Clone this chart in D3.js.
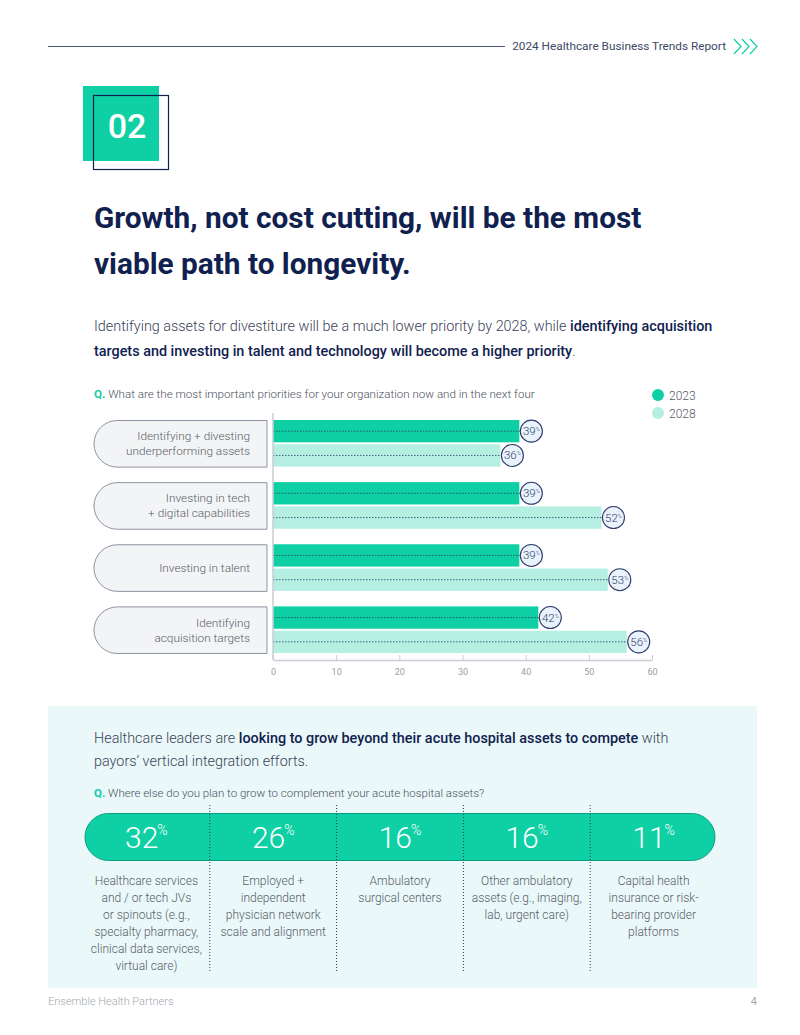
<!DOCTYPE html>
<html>
<head>
<meta charset="utf-8">
<script src="https://cdn.jsdelivr.net/npm/d3@7"></script>
<style>
  body { margin: 0; background: #fff; }
  svg { display: block; font-family: Roboto, "Noto Sans", sans-serif; }
</style>
</head>
<body>
<div id="page"></div>
<script>
// priorities chart data
const categories = [
  ["Identifying + divesting", "underperforming assets"],
  ["Investing in tech", "+ digital capabilities"],
  ["Investing in talent"],
  ["Identifying", "acquisition targets"]
];
const seriesNames = ["2023", "2028"];
const values2023 = [39, 39, 39, 42];
const values2028 = [36, 52, 53, 56];
const xTicks = [0, 10, 20, 30, 40, 50, 60];

// growth areas data
const growthValues = [32, 26, 16, 16, 11];
const growthLabels = [
  ["Healthcare services", "and / or tech JVs", "or spinouts (e.g.,", "specialty pharmacy,", "clinical data services,", "virtual care)"],
  ["Employed +", "independent", "physician network", "scale and alignment"],
  ["Ambulatory", "surgical centers"],
  ["Other ambulatory", "assets (e.g., imaging,", "lab, urgent care)"],
  ["Capital health", "insurance or risk-", "bearing provider", "platforms"]
];

const width = 800, height = 1035;
const green = "#0fd0a4", lightGreen = "#b4efe2", navy = "#10214f", grey = "#575d68";

const svg = d3.select("#page").append("svg")
  .attr("width", width).attr("height", height);

// header
svg.append("line")
  .attr("x1", 48).attr("x2", 505).attr("y1", 46.5).attr("y2", 46.5)
  .attr("stroke", "#4a5878").attr("stroke-width", 1);
svg.append("text")
  .attr("x", 726).attr("y", 50).attr("text-anchor", "end")
  .attr("font-size", 11.8).attr("fill", "#3d4868")
  .text("2024 Healthcare Business Trends Report");
[0, 8, 16].forEach(dx => {
  svg.append("path")
    .attr("d", `M${734 + dx},39 L${741 + dx},46.5 L${734 + dx},54`)
    .attr("fill", "none").attr("stroke", green).attr("stroke-width", 1.2);
});

// section number
svg.append("rect").attr("x", 83).attr("y", 86).attr("width", 76).attr("height", 75).attr("fill", green);
svg.append("rect").attr("x", 93.5).attr("y", 95.5).attr("width", 75).attr("height", 74)
  .attr("fill", "none").attr("stroke", navy).attr("stroke-width", 1.2);
svg.append("text").attr("x", 127).attr("y", 138).attr("text-anchor", "middle")
  .attr("font-size", 34).attr("font-weight", 500).attr("fill", "#fff").text("02");

// title
const title = svg.append("text").attr("font-size", 29.8).attr("font-weight", 700).attr("fill", navy);
title.append("tspan").attr("x", 94).attr("y", 228).text("Growth, not cost cutting, will be the most");
title.append("tspan").attr("x", 94).attr("y", 274).text("viable path to longevity.");

// intro paragraph
const intro = svg.append("text").attr("font-size", 14.4).attr("fill", "#3a4258").attr("font-weight", 300);
const l1 = intro.append("tspan").attr("x", 94).attr("y", 331);
l1.append("tspan").text("Identifying assets for divestiture will be a much lower priority by 2028, while ");
l1.append("tspan").attr("font-weight", 500).attr("fill", navy).text("identifying acquisition");
const l2 = intro.append("tspan").attr("x", 94).attr("y", 356);
l2.append("tspan").attr("font-weight", 500).attr("fill", navy).text("targets and investing in talent and technology will become a higher priority");
l2.append("tspan").text(".");

// question
const q1 = svg.append("text").attr("x", 94).attr("y", 398).attr("font-size", 11.6).attr("fill", "#4a505c").attr("font-weight", 300);
q1.append("tspan").attr("fill", green).attr("font-weight", 700).text("Q.");
q1.append("tspan").text(" What are the most important priorities for your organization now and in the next four");

// legend
const color = d3.scaleOrdinal().domain(seriesNames).range([green, lightGreen]);
seriesNames.forEach((s, i) => {
  svg.append("circle").attr("cx", 658).attr("cy", 395 + i * 18).attr("r", 6).attr("fill", color(s));
  svg.append("text").attr("x", 669).attr("y", 400 + i * 18).attr("font-size", 12).attr("font-weight", 300)
    .attr("fill", grey).text(s);
});

// bar chart
const x = d3.scaleLinear().domain([0, 60]).range([273, 652]);
const y = d3.scaleBand().domain(d3.range(categories.length)).range([420, 653]).paddingInner(0.25);
const ySub = d3.scaleBand().domain(seriesNames).range([0, y.bandwidth()]).paddingInner(0.08);

// category pills
const pillLeft = 94, pillRight = 267;
categories.forEach((lines, i) => {
  const top = y(i) + 0.5, h = y.bandwidth(), r = h / 2;
  svg.append("path")
    .attr("d", `M${pillRight},${top} L${pillLeft + r},${top} A${r},${r} 0 0 0 ${pillLeft + r},${top + h} L${pillRight},${top + h} Z`)
    .attr("fill", "#f3f4f6").attr("stroke", "#8d93a2").attr("stroke-width", 1);
  const t = svg.append("text").attr("text-anchor", "end").attr("font-size", 11.8).attr("font-weight", 300).attr("fill", grey);
  const cy = top + h / 2;
  lines.forEach((ln, j) => {
    t.append("tspan").attr("x", 250).attr("y", cy + 4 + (j - (lines.length - 1) / 2) * 15).text(ln);
  });
});

const rows = [];
categories.forEach((c, i) => {
  rows.push({ i, s: "2023", v: values2023[i] });
  rows.push({ i, s: "2028", v: values2028[i] });
});

svg.append("g").selectAll("rect").data(rows).join("rect")
  .attr("x", x(0))
  .attr("y", d => y(d.i) + ySub(d.s))
  .attr("width", d => x(d.v) - x(0))
  .attr("height", ySub.bandwidth())
  .attr("fill", d => color(d.s));

svg.append("g").selectAll("line").data(rows).join("line")
  .attr("x1", x(0))
  .attr("x2", d => x(d.v) + 1)
  .attr("y1", d => y(d.i) + ySub(d.s) + ySub.bandwidth() / 2)
  .attr("y2", d => y(d.i) + ySub(d.s) + ySub.bandwidth() / 2)
  .attr("stroke", "#2a3a66").attr("stroke-width", 0.8).attr("stroke-dasharray", "1.5,1.5");

const badges = svg.append("g").selectAll("g").data(rows).join("g")
  .attr("transform", d => `translate(${x(d.v) + 12},${y(d.i) + ySub(d.s) + ySub.bandwidth() / 2})`);
badges.append("circle").attr("r", 11).attr("fill", "#eaf3fb").attr("stroke", "#2e3c6a").attr("stroke-width", 1.1);
const bt = badges.append("text").attr("text-anchor", "middle").attr("y", 4).attr("fill", "#2e3c6a")
  .attr("font-size", 11.5).attr("font-weight", 300);
bt.append("tspan").text(d => d.v);
bt.append("tspan").attr("font-size", 5.5).attr("dy", -4).text("%");

// axis
const xAxis = svg.append("g").attr("transform", "translate(0,660)")
  .call(d3.axisBottom(x).tickValues(xTicks).tickSizeInner(-5).tickSizeOuter(0).tickPadding(9));
xAxis.select(".domain").attr("stroke", "#c9cdd5").attr("stroke-width", 1.5);
xAxis.selectAll(".tick line").attr("stroke", "#c9cdd5");
xAxis.selectAll(".tick text").attr("fill", "#9aa0aa").attr("font-size", 9).attr("font-family", "Roboto, sans-serif");
svg.append("line").attr("x1", x(0)).attr("x2", x(0)).attr("y1", 413).attr("y2", 660)
  .attr("stroke", "#c9cdd5").attr("stroke-width", 1.5);

// bottom panel
svg.append("rect").attr("x", 48).attr("y", 706).attr("width", 709).attr("height", 282).attr("fill", "#eaf8f9");

const p2 = svg.append("text").attr("font-size", 14.4).attr("fill", "#3a4258").attr("font-weight", 300);
const m1 = p2.append("tspan").attr("x", 94).attr("y", 743);
m1.append("tspan").text("Healthcare leaders are ");
m1.append("tspan").attr("font-weight", 500).attr("fill", navy).text("looking to grow beyond their acute hospital assets to compete");
m1.append("tspan").text(" with");
p2.append("tspan").attr("x", 94).attr("y", 766).text("payors\u2019 vertical integration efforts.");

const q2 = svg.append("text").attr("x", 94).attr("y", 797).attr("font-size", 11.5).attr("fill", "#4a505c").attr("font-weight", 300);
q2.append("tspan").attr("fill", green).attr("font-weight", 700).text("Q.");
q2.append("tspan").text(" Where else do you plan to grow to complement your acute hospital assets?");

// growth pill and columns
const col = d3.scaleBand().domain(d3.range(growthValues.length)).range([83, 717]);
const pTop = 813.5, pH = 47, pR = pH / 2, pL = 85, pRt = 715;
svg.append("path")
  .attr("d", `M${pL + pR},${pTop} L${pRt - pR},${pTop} A${pR},${pR} 0 0 1 ${pRt - pR},${pTop + pH} L${pL + pR},${pTop + pH} A${pR},${pR} 0 0 1 ${pL + pR},${pTop} Z`)
  .attr("fill", green).attr("stroke", "#0a9f7e").attr("stroke-width", 1);

svg.append("g").selectAll("line").data(d3.range(1, growthValues.length)).join("line")
  .attr("x1", d => col(d)).attr("x2", d => col(d))
  .attr("y1", 805).attr("y2", 973)
  .attr("stroke", "#2a3a66").attr("stroke-width", 1).attr("stroke-dasharray", "1,2");

const gv = svg.append("g").selectAll("text").data(growthValues).join("text")
  .attr("x", (d, i) => col(i) + col.bandwidth() / 2)
  .attr("y", 848).attr("text-anchor", "middle")
  .attr("fill", "#fff").attr("font-size", 30).attr("font-weight", 300);
gv.append("tspan").text(d => d);
gv.append("tspan").attr("font-size", 14).attr("dy", -13).attr("dx", -1).text("%");

growthLabels.forEach((lines, i) => {
  const t = svg.append("text").attr("text-anchor", "middle").attr("font-size", 12)
    .attr("font-weight", 300).attr("fill", grey);
  lines.forEach((ln, j) => {
    t.append("tspan").attr("x", col(i) + col.bandwidth() / 2).attr("y", 885 + j * 17).text(ln);
  });
});

// footer
svg.append("text").attr("x", 48).attr("y", 1005).attr("font-size", 11).attr("fill", "#a3a8b0").attr("font-weight", 300)
  .text("Ensemble Health Partners");
svg.append("text").attr("x", 757).attr("y", 1005).attr("text-anchor", "end").attr("font-size", 11).attr("fill", "#a3a8b0")
  .text("4");
</script>
</body>
</html>
